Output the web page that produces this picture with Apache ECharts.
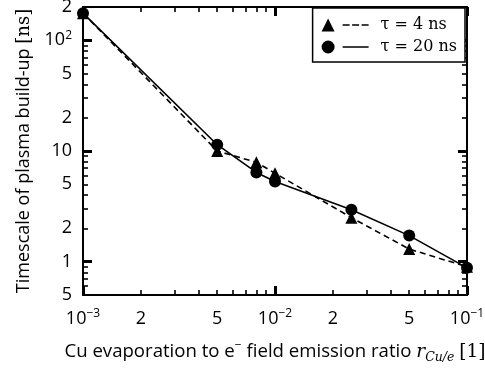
<!DOCTYPE html>
<html>
<head>
<meta charset="utf-8">
<script src="https://cdn.jsdelivr.net/npm/echarts@6/dist/echarts.min.js"></script>
<style>
  html, body { margin: 0; padding: 0; background: #fff; }
  #chart { width: 485px; height: 368px; }
</style>
</head>
<body>
<div id="chart"></div>
<script>
// Evaporation ratio samples (shared by both curves)
const ratio = [0.001, 0.005, 0.008, 0.01, 0.025, 0.05, 0.1];
// Plasma build-up timescale [ns]
const tau4 = [176, 10, 7.9, 6.3, 2.5, 1.3, 0.9];
const tau20 = [176, 11.4, 6.4, 5.3, 2.95, 1.72, 0.88];

// Axis ranges
const xRange = [0.001, 0.1];
const yRange = [0.5, 200];

// Tick positions
const xMajorTicks = [0.001, 0.01, 0.1];
const xMinorTicks = [0.002, 0.003, 0.004, 0.005, 0.006, 0.007, 0.008, 0.009,
                     0.02, 0.03, 0.04, 0.05, 0.06, 0.07, 0.08, 0.09];
const yMajorTicks = [1, 10, 100];
const yMinorTicks = [0.5, 0.6, 0.7, 0.8, 0.9, 2, 3, 4, 5, 6, 7, 8, 9,
                     20, 30, 40, 50, 60, 70, 80, 90, 200];

// Tick labels ('^' marks an exponent)
const xLabelValues = [0.001, 0.002, 0.005, 0.01, 0.02, 0.05, 0.1];
const xLabelTexts = ['10^\u22123', '2', '5', '10^\u22122', '2', '5', '10^\u22121'];
const yLabelValues = [0.5, 1, 2, 5, 10, 20, 50, 100, 200];
const yLabelTexts = ['5', '1', '2', '5', '10', '2', '5', '10^2', '2'];

const seriesNames = ['\u03c4 = 4 ns', '\u03c4 = 20 ns'];

const SANS = '"Open Sans", "Noto Sans", sans-serif';
const SERIF = '"DejaVu Serif", "Liberation Serif", serif';
const INK = '#000';

function labelFor(values, texts) {
  return function (v) {
    for (let i = 0; i < values.length; i++) {
      if (Math.abs(Math.log10(v) - Math.log10(values[i])) < 1e-6) {
        const t = texts[i];
        const k = t.indexOf('^');
        if (k < 0) return '{b|' + t + '}';
        return '{b|' + t.slice(0, k) + '}{s|' + t.slice(k + 1) + '}';
      }
    }
    return '';
  };
}

const tickRich = {
  b: { fontFamily: SANS, fontSize: 18, color: INK, lineHeight: 22 },
  s: { fontFamily: SANS, fontSize: 12, color: INK, lineHeight: 12, verticalAlign: 'top' }
};

// One log axis of the frame; major and minor ticks sit on separate,
// overlapping axes so they can have different lengths.
function logAxis(pos, range, ticks, major, extra) {
  const a = {
    type: 'log',
    position: pos,
    min: range[0],
    max: range[1],
    axisLine: { show: major, lineStyle: { color: INK, width: 2 } },
    axisTick: {
      show: true,
      inside: true,
      customValues: ticks,
      length: major ? 9 : 5,
      lineStyle: { color: INK, width: major ? 3 : 1.6 }
    },
    axisLabel: { show: false },
    splitLine: { show: false }
  };
  return Object.assign(a, extra || {});
}

const chart = echarts.init(document.getElementById('chart'), null, { renderer: 'canvas' });

const option = {
  animation: false,
  backgroundColor: '#fff',
  grid: { left: 83, right: 18, top: 7, bottom: 73, containLabel: false, outerBoundsMode: 'none' },
  legend: {
    orient: 'vertical',
    right: 20,
    top: 8,
    align: 'left',
    padding: [9, 8, 7, 9],
    itemWidth: 47,
    itemHeight: 13,
    itemGap: 6,
    borderColor: INK,
    borderWidth: 1.5,
    backgroundColor: '#fff',
    selectedMode: false,
    textStyle: { fontFamily: SERIF, fontSize: 16, lineHeight: 16, color: INK, padding: [0, 0, 0, 7] },
    data: [
      { name: seriesNames[0],
        icon: 'path://M0,13L6.5,0L13,13Z M21,5.7h7v1.6h-7Z M30.5,5.7h7v1.6h-7Z M40,5.7h7v1.6h-7Z' },
      { name: seriesNames[1],
        icon: 'path://M0,6.5a6.5,6.5 0 1,0 13,0a6.5,6.5 0 1,0 -13,0Z M21,5.7h26v1.6h-26Z' }
    ]
  },
  xAxis: [
    logAxis('bottom', xRange, xMajorTicks, true, {
      axisLabel: {
        show: true,
        customValues: xLabelValues,
        margin: 13,
        formatter: labelFor(xLabelValues, xLabelTexts),
        rich: tickRich
      },
      name: '{t|Cu evaporation to e}{sup|\u2212}{t| field emission ratio }{r|r}{sub|Cu/e}{t| }{br|[1]}',
      nameLocation: 'middle',
      nameGap: 45,
      nameTextStyle: {
        rich: {
          t: { fontFamily: SANS, fontSize: 18.6, color: INK, lineHeight: 24 },
          sup: { fontFamily: SANS, fontSize: 12, color: INK, lineHeight: 14, verticalAlign: 'top' },
          r: { fontFamily: SERIF, fontStyle: 'italic', fontSize: 18.6, color: INK, lineHeight: 24 },
          sub: { fontFamily: SERIF, fontStyle: 'italic', fontSize: 12.5, color: INK, lineHeight: 12, verticalAlign: 'bottom' },
          br: { fontFamily: SERIF, fontSize: 18.6, color: INK, lineHeight: 24 }
        }
      }
    }),
    logAxis('bottom', xRange, xMinorTicks, false),
    logAxis('top', xRange, xMajorTicks, true),
    logAxis('top', xRange, xMinorTicks, false)
  ],
  yAxis: [
    logAxis('left', yRange, yMajorTicks, true, {
      axisLabel: {
        show: true,
        customValues: yLabelValues,
        margin: 11,
        formatter: labelFor(yLabelValues, yLabelTexts),
        rich: tickRich
      },
      name: '{t|Timescale of plasma build-up }{br|[ns]}',
      nameLocation: 'middle',
      nameGap: 47,
      nameTextStyle: {
        rich: {
          t: { fontFamily: SANS, fontSize: 18, color: INK, lineHeight: 24 },
          br: { fontFamily: SERIF, fontSize: 18, color: INK, lineHeight: 24 }
        }
      }
    }),
    logAxis('left', yRange, yMinorTicks, false),
    logAxis('right', yRange, yMajorTicks, true),
    logAxis('right', yRange, yMinorTicks, false)
  ],
  series: [
    {
      name: seriesNames[0],
      type: 'line',
      xAxisIndex: 0,
      yAxisIndex: 0,
      data: ratio.map((r, i) => [r, tau4[i]]),
      symbol: 'triangle',
      symbolSize: 12,
      showAllSymbol: true,
      itemStyle: { color: INK },
      lineStyle: { color: INK, width: 1.6, type: [6, 4] },
      z: 3
    },
    {
      name: seriesNames[1],
      type: 'line',
      xAxisIndex: 0,
      yAxisIndex: 0,
      data: ratio.map((r, i) => [r, tau20[i]]),
      symbol: 'circle',
      symbolSize: 12,
      showAllSymbol: true,
      itemStyle: { color: INK },
      lineStyle: { color: INK, width: 1.6 },
      z: 4
    }
  ]
};

chart.setOption(option);
</script>
</body>
</html>
